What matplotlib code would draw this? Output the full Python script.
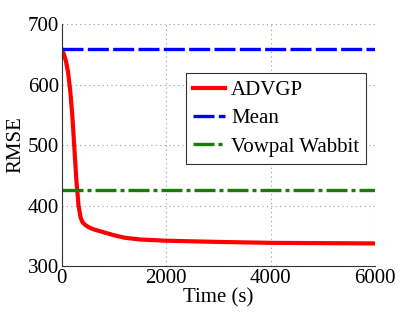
import matplotlib
matplotlib.use("Agg")
import matplotlib.pyplot as plt
import numpy as np

plt.rcParams['font.family'] = ['Liberation Serif', 'DejaVu Serif']

time_s = [0, 40, 80, 120, 160, 200, 240, 280, 320, 360, 400, 450, 500, 600, 800, 1000, 1200, 1500, 2000, 2500, 3000, 4000, 5000, 6000]
advgp = [658, 650, 638, 620, 590, 550, 495, 440, 400, 380, 372, 368, 365, 361, 356, 351, 347, 344, 342, 341, 340, 338.5, 338, 337.5]
mean_val = 659
vw_val = 425

fig = plt.figure(figsize=(4.15, 3.12), dpi=100)
ax = fig.add_axes([0.149, 0.147, 0.755, 0.776])
ax.plot(time_s, advgp, color='#ff0000', lw=3, label='ADVGP')
ax.axhline(mean_val, color='#0000ff', lw=2.4, ls=(0, (6.3, 1.3)), label='Mean')
ax.axhline(vw_val, color='#1a7a0a', lw=2.4, ls=(0, (6.3, 1.2, 1.2, 1.2)), label='Vowpal Wabbit')

ax.set_xlim(0, 6000)
ax.set_ylim(300, 700)
ax.set_xticks([0, 2000, 4000, 6000])
ax.set_yticks([300, 400, 500, 600, 700])
ax.grid(True, ls=(0, (1, 3)), color='#999999', lw=0.8)
for s in ['top', 'right']:
    ax.spines[s].set_visible(False)
ax.spines['left'].set_color('#333333')
ax.spines['bottom'].set_color('#333333')
ax.tick_params(length=0, labelsize=15, pad=2)
ax.set_xlabel('Time (s)', fontsize=15, labelpad=0)
ax.set_ylabel('RMSE', fontsize=15, labelpad=2)
leg = ax.legend(loc='upper right', bbox_to_anchor=(0.972, 0.797), borderaxespad=0, fontsize=15,
                fancybox=False, edgecolor='#333333', framealpha=1,
                handlelength=1.5, handletextpad=0.3, borderpad=0.35, labelspacing=0.42)
leg.get_frame().set_linewidth(0.8)
fig.savefig('out.png', dpi=100)
